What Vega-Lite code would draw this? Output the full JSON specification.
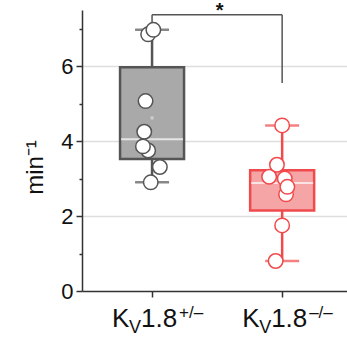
{
  "$schema": "https://vega.github.io/schema/vega-lite/v6.json",
  "width": 265,
  "height": 281,
  "autosize": {"type": "none"},
  "padding": {"left": 82, "top": 10, "right": 0, "bottom": 46},
  "background": "white",
  "config": {
    "view": {"stroke": null},
    "font": "Liberation Sans",
    "axis": {"domainColor": "#333", "tickColor": "#333", "labelColor": "#111", "titleColor": "#111", "labelFont": "Liberation Sans", "titleFont": "Liberation Sans"}
  },
  "datasets": {
    "boxes": [
      {"g": 1, "grp": "het", "q1": 3.52, "q3": 5.97, "med": 4.05, "lo": 2.9, "hi": 6.97, "mean": 4.62},
      {"g": 2, "grp": "ko", "q1": 2.15, "q3": 3.22, "med": 2.88, "lo": 0.8, "hi": 4.42, "mean": 2.7}
    ],
    "pts": [
      {"grp": "het", "x": 0.97, "v": 6.85},
      {"grp": "het", "x": 1.01, "v": 6.97},
      {"grp": "het", "x": 0.95, "v": 5.07},
      {"grp": "het", "x": 0.94, "v": 4.25},
      {"grp": "het", "x": 0.97, "v": 3.75},
      {"grp": "het", "x": 0.93, "v": 3.86},
      {"grp": "het", "x": 1.06, "v": 3.31},
      {"grp": "het", "x": 0.99, "v": 2.9},
      {"grp": "ko", "x": 2.0, "v": 4.42},
      {"grp": "ko", "x": 1.9, "v": 3.05},
      {"grp": "ko", "x": 2.02, "v": 3.0},
      {"grp": "ko", "x": 1.96, "v": 3.37},
      {"grp": "ko", "x": 2.03, "v": 2.58},
      {"grp": "ko", "x": 2.04, "v": 2.78},
      {"grp": "ko", "x": 2.0, "v": 1.75},
      {"grp": "ko", "x": 1.95, "v": 0.8}
    ],
    "bracket": [
      {"x": 1, "x2": 2, "y": 7.37, "y2": 7.37},
      {"x": 1, "x2": 1, "y": 7.37, "y2": 7.1},
      {"x": 2, "x2": 2, "y": 7.37, "y2": 5.55}
    ],
    "labels": [
      {"g": 1, "sup": "+/–"},
      {"g": 2, "sup": "–/–"}
    ]
  },
  "encoding": {
    "x": {"type": "quantitative", "scale": {"domain": [0.5, 2.46], "nice": false, "zero": false},
      "axis": {"values": [1, 2], "labels": false, "title": null, "grid": false, "tickSize": 6, "tickWidth": 1.5, "domainWidth": 1.5}}
  },
  "layer": [
    {
      "data": {"name": "boxes"},
      "mark": {"type": "rule", "strokeWidth": 2.5},
      "encoding": {
        "x": {"field": "g"},
        "y": {"field": "lo", "type": "quantitative", "scale": {"domain": [0, 7.5], "nice": false},
          "axis": {"values": [0, 1, 2, 3, 4, 5, 6, 7], "title": "min⁻¹", "titleFontSize": 24, "titleFontWeight": "normal",
            "titleAngle": -90, "titleX": -40, "titleY": 157, "titleAlign": "center", "titleBaseline": "alphabetic",
            "labelExpr": "datum.value % 2 == 0 ? datum.value : ''", "labelFontSize": 22, "labelPadding": 3,
            "tickSize": {"expr": "datum.value % 2 == 0 ? 6 : 3"}, "tickWidth": 1.5, "domainWidth": 1.5,
            "grid": true, "gridColor": "#dedede", "gridWidth": 1.5,
            "gridOpacity": {"expr": "datum.value % 2 == 0 && datum.value > 0 ? 1 : 0"}}},
        "y2": {"field": "hi"},
        "stroke": {"field": "grp", "type": "nominal", "scale": {"domain": ["het", "ko"], "range": ["#555555", "#f04a4c"]}, "legend": null}
      }
    },
    {
      "data": {"name": "boxes"},
      "mark": {"type": "bar", "width": 64, "strokeWidth": 2.5},
      "encoding": {
        "x": {"field": "g"},
        "y": {"field": "q1", "type": "quantitative"},
        "y2": {"field": "q3"},
        "fill": {"field": "grp", "type": "nominal", "scale": {"domain": ["het", "ko"], "range": ["#a9a9a9", "#f5a5a5"]}, "legend": null},
        "stroke": {"field": "grp", "type": "nominal", "legend": null}
      }
    },
    {
      "data": {"name": "boxes"},
      "mark": {"type": "tick", "orient": "horizontal", "color": "white", "size": 62, "thickness": 2},
      "encoding": {"x": {"field": "g"}, "y": {"field": "med", "type": "quantitative"}}
    },
    {
      "data": {"name": "boxes"},
      "mark": {"type": "point", "shape": "square", "size": 10, "filled": true, "color": "#dddddd"},
      "encoding": {"x": {"field": "g"}, "y": {"field": "mean", "type": "quantitative"}}
    },
    {
      "data": {"name": "boxes"},
      "mark": {"type": "tick", "orient": "horizontal", "size": 34, "thickness": 2.5},
      "encoding": {"x": {"field": "g"}, "y": {"field": "lo", "type": "quantitative"},
        "color": {"field": "grp", "type": "nominal", "scale": {"domain": ["het", "ko"], "range": ["#555555", "#f04a4c"]}, "legend": null}}
    },
    {
      "data": {"name": "boxes"},
      "mark": {"type": "tick", "orient": "horizontal", "size": 34, "thickness": 2.5},
      "encoding": {"x": {"field": "g"}, "y": {"field": "hi", "type": "quantitative"},
        "color": {"field": "grp", "type": "nominal", "legend": null}}
    },
    {
      "data": {"name": "bracket"},
      "mark": {"type": "rule", "color": "#555555", "strokeWidth": 1.5},
      "encoding": {"x": {"field": "x"}, "x2": {"field": "x2"}, "y": {"field": "y", "type": "quantitative"}, "y2": {"field": "y2"}}
    },
    {
      "data": {"name": "pts"},
      "mark": {"type": "point", "shape": "circle", "size": 210, "filled": false, "fill": "white", "fillOpacity": 1, "strokeWidth": 1.5, "opacity": 1},
      "encoding": {"x": {"field": "x"}, "y": {"field": "v", "type": "quantitative"},
        "stroke": {"field": "grp", "type": "nominal", "legend": null}}
    },
    {
      "data": {"values": [{"t": "*"}]},
      "mark": {"type": "text", "fontSize": 20, "fontWeight": "bold", "baseline": "alphabetic", "align": "center", "dy": 2, "color": "#111"},
      "encoding": {"x": {"datum": 1.52}, "y": {"datum": 7.37}, "text": {"field": "t"}}
    },
    {
      "data": {"name": "labels"},
      "mark": {"type": "text", "text": "K", "fontSize": 26, "align": "left", "baseline": "alphabetic", "dx": -40, "color": "#111"},
      "encoding": {"x": {"field": "g"}, "y": {"datum": -0.96}}
    },
    {
      "data": {"name": "labels"},
      "mark": {"type": "text", "text": "V", "fontSize": 18, "align": "left", "baseline": "alphabetic", "dx": -23, "dy": 6, "color": "#111"},
      "encoding": {"x": {"field": "g"}, "y": {"datum": -0.96}}
    },
    {
      "data": {"name": "labels"},
      "mark": {"type": "text", "text": "1.8", "fontSize": 26, "align": "left", "baseline": "alphabetic", "dx": -11, "color": "#111"},
      "encoding": {"x": {"field": "g"}, "y": {"datum": -0.96}}
    },
    {
      "data": {"name": "labels"},
      "mark": {"type": "text", "fontSize": 17, "align": "left", "baseline": "alphabetic", "dx": 27, "dy": -9, "color": "#111"},
      "encoding": {"x": {"field": "g"}, "y": {"datum": -0.96}, "text": {"field": "sup"}}
    }
  ]
}
